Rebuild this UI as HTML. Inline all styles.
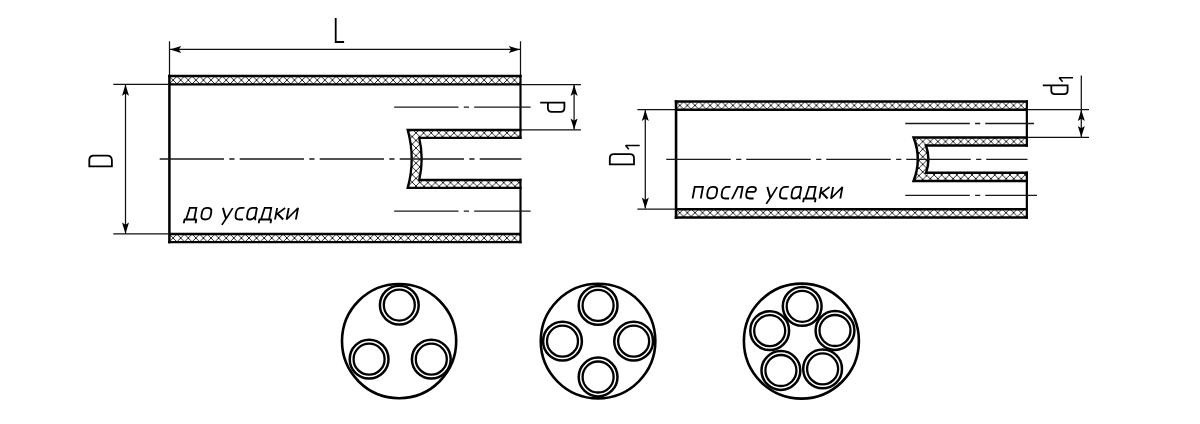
<!DOCTYPE html>
<html>
<head>
<meta charset="utf-8">
<title>Diagram</title>
<style>
html,body{margin:0;padding:0;background:#fff;}
body{width:1200px;height:424px;overflow:hidden;font-family:"Liberation Sans",sans-serif;}
svg{display:block;position:absolute;left:0;top:0;}
</style>
</head>
<body>
<svg width="1200" height="424" viewBox="0 0 1200 424">
<defs>
  <pattern id="hL1" x="169.31" y="76.31" width="7.586" height="7.586" patternUnits="userSpaceOnUse">
    <path d="M-1 -1 L8.586 8.586 M-1 8.586 L8.586 -1" stroke="#000" stroke-width="0.85" fill="none"/>
  </pattern>
  <pattern id="hL2" x="169.31" y="234.21" width="7.586" height="7.586" patternUnits="userSpaceOnUse">
    <path d="M-1 -1 L8.586 8.586 M-1 8.586 L8.586 -1" stroke="#000" stroke-width="0.85" fill="none"/>
  </pattern>
  <pattern id="hL3" x="488.05" y="129.06" width="7.586" height="7.586" patternUnits="userSpaceOnUse">
    <path d="M-1 -1 L8.586 8.586 M-1 8.586 L8.586 -1" stroke="#000" stroke-width="0.85" fill="none"/>
  </pattern>
  <pattern id="hL4" x="488.51" y="182.56" width="7.586" height="7.586" patternUnits="userSpaceOnUse">
    <path d="M-1 -1 L8.586 8.586 M-1 8.586 L8.586 -1" stroke="#000" stroke-width="0.85" fill="none"/>
  </pattern>
  <pattern id="hR1" x="676.01" y="101.61" width="7.586" height="7.586" patternUnits="userSpaceOnUse">
    <path d="M-1 -1 L8.586 8.586 M-1 8.586 L8.586 -1" stroke="#000" stroke-width="0.85" fill="none"/>
  </pattern>
  <pattern id="hR2" x="676.01" y="208.91" width="7.586" height="7.586" patternUnits="userSpaceOnUse">
    <path d="M-1 -1 L8.586 8.586 M-1 8.586 L8.586 -1" stroke="#000" stroke-width="0.85" fill="none"/>
  </pattern>
  <pattern id="hR3" x="994.81" y="137.76" width="7.586" height="7.586" patternUnits="userSpaceOnUse">
    <path d="M-1 -1 L8.586 8.586 M-1 8.586 L8.586 -1" stroke="#000" stroke-width="0.85" fill="none"/>
  </pattern>
  <pattern id="hR4" x="1006.16" y="171.11" width="7.586" height="7.586" patternUnits="userSpaceOnUse">
    <path d="M-1 -1 L8.586 8.586 M-1 8.586 L8.586 -1" stroke="#000" stroke-width="0.85" fill="none"/>
  </pattern>
  <path id="ah" d="M0 0 L-3.5 11.2 L0 8.9 L3.5 11.2 Z" fill="#000"/>

  <g id="g_d"><path d="M0.7 3.9 V0 M0 0 H12.8 M12.5 0 V3.9 M2.3 0 L3.9 -12 H10.4 V0"/></g>
  <g id="g_o"><path d="M4.6 -12 C8 -12 9.2 -10.6 9.2 -7.6 V-4.4 C9.2 -1.4 8 0 4.6 0 C1.2 0 0 -1.4 0 -4.4 V-7.6 C0 -10.6 1.2 -12 4.6 -12 Z"/></g>
  <g id="g_u"><path d="M-0.3 -12 L4.7 -1 M9.5 -12 Q5.9 -2.6 1.8 5.7"/></g>
  <g id="g_s"><path d="M7.4 -12 H4.4 C1.2 -12 -0.1 -10.5 -0.1 -7.5 V-4.5 C-0.1 -1.5 1.2 0 4.4 0 H8.1"/></g>
  <g id="g_a"><path d="M8.3 -12 H4.4 C1.2 -12 0 -10.6 0 -7.6 V-4.2 C0 -1.2 1 0 3.6 0 C5.8 0 7.3 -1.4 8.3 -3.6 M8.3 -12 V-1.2 Q8.3 0 9.7 0"/></g>
  <g id="g_k"><path d="M0 -12 V0 M0 -6.1 H1.4 M8 -12 L1.4 -6.1 L8.1 0"/></g>
  <g id="g_i"><path d="M0 -12 V0 L9.3 -12 V0" stroke-linejoin="bevel"/></g>
  <g id="g_p"><path d="M0 0 V-12 H8.2 V0"/></g>
  <g id="g_l"><path d="M0 0 Q1.1 0 1.5 -1.6 L4.5 -12 H9.2 V0"/></g>
  <g id="g_e"><path d="M0.1 -6.9 H6.6 C8.2 -6.9 8.8 -7.5 8.8 -8.9 C8.8 -11 7.6 -12 4.6 -12 C1.2 -12 0 -10.6 0 -7.6 V-4.4 C0 -1.4 1.2 0 4.4 0 H8.1"/></g>
  <g id="w_usadki">
    <use href="#g_u" x="0"/><use href="#g_s" x="13.8"/><use href="#g_a" x="25.4"/>
    <use href="#g_d" x="37.6"/><use href="#g_k" x="53.95"/><use href="#g_i" x="65.5"/>
  </g>
</defs>
<rect width="1200" height="424" fill="#fff"/>

<!-- ================= LEFT TUBE ================= -->
<g id="left">
<rect x="169.4" y="76.0" width="351.1" height="8.299999999999997" fill="url(#hL1)"/>
<rect x="169.4" y="234.0" width="351.1" height="8.150000000000006" fill="url(#hL2)"/>
<path d="M407.7 130.0 H520.5 V137.8 H419.2 Q424.2 158.925 419.2 180.0 L419.2 158.925 L411.7 158.925 Q415.7 158.925 407.7 130.0 Z" fill="none"/>
<path d="M407.7 130.0 H520.5 V137.8 H419.2 Q424.2 158.925 419.2 180.0 H520.5 V187.85 H407.7 Q415.7 158.925 407.7 130.0 Z" fill="url(#hL3)"/>
<rect x="420.2" y="180.0" width="100.30000000000001" height="7.849999999999994" fill="#fff"/>
<rect x="420.2" y="180.0" width="100.30000000000001" height="7.849999999999994" fill="url(#hL4)"/>
<g fill="none" stroke="#000" stroke-width="2.3" stroke-linejoin="miter" stroke-linecap="butt">
  <path d="M168.15 76.0 H521.575 M168.15 242.15 H521.575"/>
  <path d="M169.4 84.3 H520.5 M169.4 234.0 H520.5"/>
  <path d="M521.575 130.0 H407.7 Q415.7 158.925 407.7 187.85 H521.575"/>
  <path d="M521.575 137.8 H419.2 Q424.2 158.925 419.2 180.0 H521.575"/>
</g>
<g fill="none" stroke="#000" stroke-width="2.5" stroke-linecap="butt">
  <path d="M169.4 74.85 V243.3"/>
  <path d="M520.5 74.85 V138.95000000000002 M520.5 178.85 V243.3" stroke-width="2.15"/>
</g>

  <g fill="none" stroke="#1a1a1a" stroke-width="1.3">
    <path d="M159.7 159 H521.5" stroke-dasharray="64.3 5.3 5.2 5.2"/>
    <path d="M394.2 107.1 H530.6" stroke-dasharray="64.3 5.3 5.2 5.2"/>
    <path d="M394.2 211.1 H530.6" stroke-dasharray="64.3 5.3 5.2 5.2"/>
  </g>
  <g fill="none" stroke="#111" stroke-width="1.25">
    <path d="M169.5 41.3 V75"/>
    <path d="M520.5 41.3 V75"/>
    <path d="M170 49.4 H520"/>
    <path d="M113.3 84.4 H169"/>
    <path d="M113.3 233.9 H169"/>
    <path d="M125.5 85 V233.5"/>
    <path d="M521 84.5 H580.9"/>
    <path d="M521 129.8 H580.9"/>
    <path d="M574.1 85 V129.5"/>
  </g>
  <use href="#ah" transform="translate(170 49.4) rotate(-90)"/>
  <use href="#ah" transform="translate(520 49.4) rotate(90)"/>
  <use href="#ah" transform="translate(125.5 84.6)"/>
  <use href="#ah" transform="translate(125.5 233.7) rotate(180)"/>
  <use href="#ah" transform="translate(574.1 84.7)"/>
  <use href="#ah" transform="translate(574.1 129.6) rotate(180)"/>
  <g fill="none" stroke="#000" stroke-width="1.8" stroke-linejoin="miter">
    <path d="M335.7 18.1 V42 H344.1"/>
    <path d="M89.3 166.4 H111.9 V160.4 Q111.9 155.6 107.1 155.6 H93.7 Q89.3 155.6 89.3 160 Z"/>
    <path d="M540.2 102.6 H564.4 V108 Q564.4 111.8 560.6 111.8 H551.7 Q547.9 111.8 547.9 108 V102.6"/>
  </g>
  <g fill="none" stroke="#000" stroke-width="1.85" stroke-linejoin="miter" transform="translate(0 219.5) scale(1 0.96) skewX(-10)">
    <use href="#g_d" x="183.8"/><use href="#g_o" x="200.7"/><use href="#w_usadki" x="221.1"/>
  </g>
</g>

<!-- ================= RIGHT TUBE ================= -->
<g id="right">
<rect x="676.05" y="101.5" width="350.79999999999995" height="8.150000000000006" fill="url(#hR1)"/>
<rect x="676.05" y="209.2" width="350.79999999999995" height="8.400000000000006" fill="url(#hR2)"/>
<path d="M913.6 137.55 H1026.85 V145.6 H926.0 Q930.8 159.22500000000002 926.0 172.8 L926.0 159.22500000000002 L917.8000000000001 159.22500000000002 Q922.0 159.22500000000002 913.6 137.55 Z" fill="none"/>
<path d="M913.6 137.55 H1026.85 V145.6 H926.0 Q930.8 159.22500000000002 926.0 172.8 H1026.85 V180.9 H913.6 Q922.0 159.22500000000002 913.6 137.55 Z" fill="url(#hR3)"/>
<rect x="927.0" y="172.8" width="99.84999999999991" height="8.099999999999994" fill="#fff"/>
<rect x="927.0" y="172.8" width="99.84999999999991" height="8.099999999999994" fill="url(#hR4)"/>
<g fill="none" stroke="#000" stroke-width="2.5" stroke-linejoin="miter" stroke-linecap="butt">
  <path d="M674.75 101.5 H1027.9499999999998 M674.75 217.6 H1027.9499999999998"/>
  <path d="M676.05 109.65 H1026.85 M676.05 209.2 H1026.85"/>
  <path d="M1027.9499999999998 137.55 H913.6 Q922.0 159.22500000000002 913.6 180.9 H1027.9499999999998"/>
  <path d="M1027.9499999999998 145.6 H926.0 Q930.8 159.22500000000002 926.0 172.8 H1027.9499999999998"/>
</g>
<g fill="none" stroke="#000" stroke-width="2.6" stroke-linecap="butt">
  <path d="M676.05 100.25 V218.85"/>
  <path d="M1026.85 100.25 V146.85 M1026.85 171.55 V218.85" stroke-width="2.2"/>
</g>

  <g fill="none" stroke="#1a1a1a" stroke-width="1.3">
    <path d="M666.25 159.45 H1027.5" stroke-dasharray="64.5 5.4 5.1 5"/>
    <path d="M905.3 123.5 H1034" stroke-dasharray="64.5 5.3 5.1 5.1"/>
    <path d="M905.3 195.3 H1037" stroke-dasharray="64.5 5.3 5.1 5.1"/>
  </g>
  <g fill="none" stroke="#111" stroke-width="1.25">
    <path d="M637.4 109.7 H675.5"/>
    <path d="M637.4 209 H675.5"/>
    <path d="M645.3 110 V208.6"/>
    <path d="M1027.5 109.7 H1089"/>
    <path d="M1027.5 137.3 H1089"/>
    <path d="M1081.3 75.4 V137"/>
  </g>
  <use href="#ah" transform="translate(645.3 109.9)"/>
  <use href="#ah" transform="translate(645.3 208.8) rotate(180)"/>
  <use href="#ah" transform="translate(1081.3 109.9)"/>
  <use href="#ah" transform="translate(1081.3 137.1) rotate(180)"/>
  <g fill="none" stroke="#000" stroke-width="1.8" stroke-linejoin="miter">
    <path d="M609.8 164.4 H634 V158.2 Q634 154.2 630 154.2 H613.8 Q609.8 154.2 609.8 158.2 Z"/>
    <path d="M628.8 149.2 L625.6 145.6 H639.7" stroke-width="1.5" stroke-linejoin="bevel"/>
    <path d="M1042.8 85.4 H1067.6 V90.6 Q1067.6 94.2 1064 94.2 H1054.9 Q1051.3 94.2 1051.3 90.6 V85.4"/>
    <path d="M1062.6 81.8 L1059.2 77.8 H1073" stroke-width="1.5" stroke-linejoin="bevel"/>
  </g>
  <g fill="none" stroke="#000" stroke-width="1.85" stroke-linejoin="miter" transform="translate(0 198.5) scale(1 0.96) skewX(-10)">
    <use href="#g_p" x="692.6"/><use href="#g_o" x="706.5"/><use href="#g_s" x="721"/><use href="#g_l" x="731.3"/><use href="#g_e" x="745.5"/><use href="#w_usadki" x="765.5"/>
  </g>
</g>

<!-- ================= CIRCLES ================= -->
<g fill="none" stroke="#000" stroke-width="2.5">
  <circle cx="399.1" cy="341.1" r="57.1" stroke-width="2.6"/>
  <g id="c3">
    <circle cx="399.3" cy="305.1" r="19.4"/><circle cx="399.3" cy="305.1" r="15.5" stroke-width="2.3"/>
    <circle cx="369.1" cy="359.2" r="19.4"/><circle cx="369.1" cy="359.2" r="15.5" stroke-width="2.3"/>
    <circle cx="431.3" cy="359.2" r="19.4"/><circle cx="431.3" cy="359.2" r="15.5" stroke-width="2.3"/>
  </g>
  <circle cx="598.05" cy="341.1" r="57.3" stroke-width="2.6"/>
  <g id="c4">
    <circle cx="598.1" cy="305.4" r="19.4"/><circle cx="598.1" cy="305.4" r="15.5" stroke-width="2.3"/>
    <circle cx="598.1" cy="377" r="19.4"/><circle cx="598.1" cy="377" r="15.5" stroke-width="2.3"/>
    <circle cx="562.5" cy="341.2" r="19.4"/><circle cx="562.5" cy="341.2" r="15.5" stroke-width="2.3"/>
    <circle cx="633.65" cy="341.2" r="19.4"/><circle cx="633.65" cy="341.2" r="15.5" stroke-width="2.3"/>
  </g>
  <circle cx="801.4" cy="341.1" r="57.5" stroke-width="2.6"/>
  <g id="c5">
    <circle cx="802.2" cy="306.3" r="19.4"/><circle cx="802.2" cy="306.3" r="15.5" stroke-width="2.3"/>
    <circle cx="835" cy="330.5" r="19.4"/><circle cx="835" cy="330.5" r="15.5" stroke-width="2.3"/>
    <circle cx="769.7" cy="330.7" r="19.4"/><circle cx="769.7" cy="330.7" r="15.5" stroke-width="2.3"/>
    <circle cx="822.6" cy="368.9" r="19.4"/><circle cx="822.6" cy="368.9" r="15.5" stroke-width="2.3"/>
    <circle cx="780.9" cy="370.5" r="19.4"/><circle cx="780.9" cy="370.5" r="15.5" stroke-width="2.3"/>
  </g>
</g>
</svg>
</body>
</html>
